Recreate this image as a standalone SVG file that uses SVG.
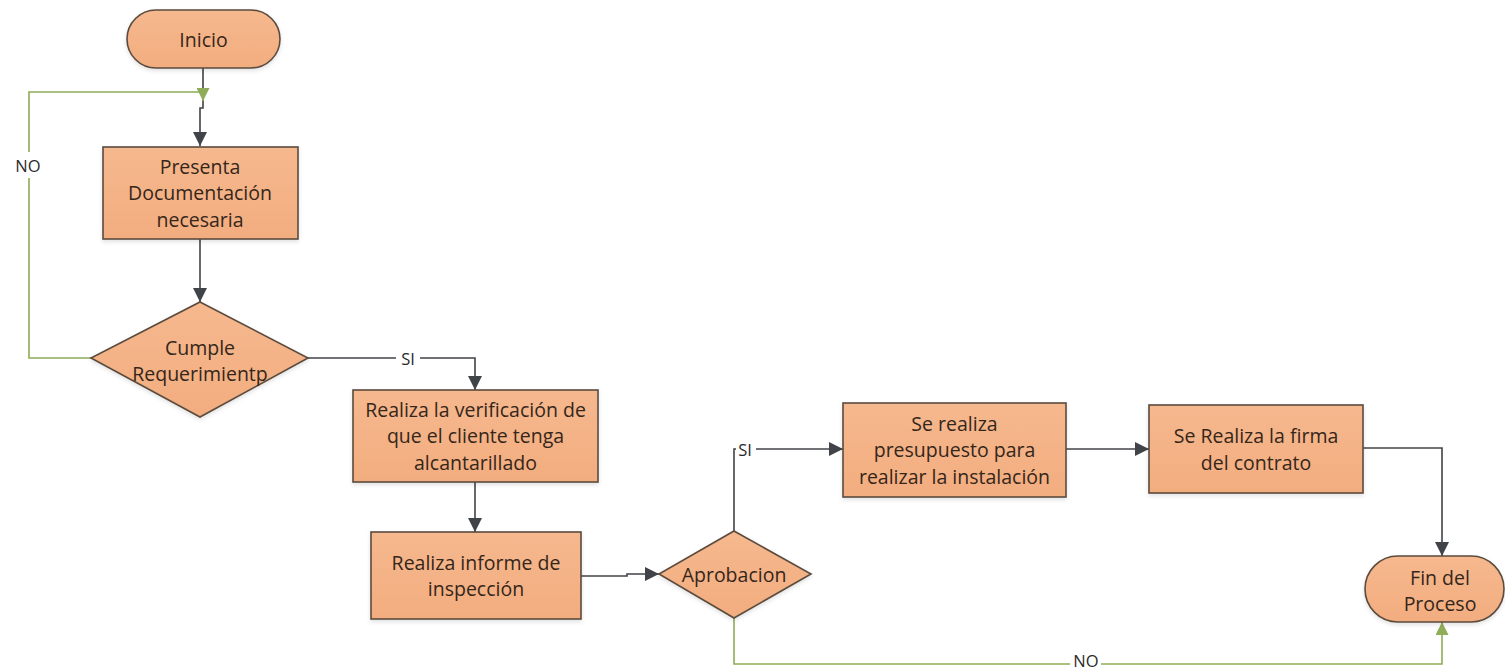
<svg xmlns="http://www.w3.org/2000/svg" width="1505" height="671" viewBox="0 0 1505 671">
  <defs>
    <linearGradient id="fillOrange" x1="0" y1="0" x2="0" y2="1">
      <stop offset="0" stop-color="#f6b88e"/>
      <stop offset="1" stop-color="#f2ad7f"/>
    </linearGradient>
    <filter id="soft" x="-10%" y="-10%" width="120%" height="130%">
      <feDropShadow dx="0" dy="2" stdDeviation="2" flood-color="#000" flood-opacity="0.12"/>
    </filter>
    <marker id="arrowDark" viewBox="0 0 10 10" refX="10" refY="5" markerWidth="14" markerHeight="14" markerUnits="userSpaceOnUse" orient="auto">
      <path d="M0,0 L10,5 L0,10 z" fill="#404348"/>
    </marker>
    <marker id="arrowGreen" viewBox="0 0 10 10" refX="10" refY="5" markerWidth="13" markerHeight="13" markerUnits="userSpaceOnUse" orient="auto">
      <path d="M0,0 L10,5 L0,10 z" fill="#8fac58"/>
    </marker>
  </defs>
  <style>
    .shape { fill: url(#fillOrange); stroke: #5b4b3e; stroke-width: 1.6; filter: url(#soft); }
    .label { font-family: "Open Sans", "Liberation Sans", sans-serif; font-size: 19.5px; fill: #35261a; text-anchor: middle; dominant-baseline: central; }
    .edge { fill: none; stroke: #404348; stroke-width: 1.6; }
    .edge-no { fill: none; stroke: #8fac58; stroke-width: 1.6; }
    .edge-text { font-family: "Open Sans", "Liberation Sans", sans-serif; font-size: 16.5px; fill: #2a2a2a; text-anchor: middle; dominant-baseline: central; }
  </style>
  <rect width="1505" height="671" fill="#ffffff"/>

  <!-- connectors -->
  <g id="connectors">
    <path class="edge" d="M203,68 V108 H200 V146" marker-end="url(#arrowDark)"/>
    <path class="edge" d="M200,238 V302" marker-end="url(#arrowDark)"/>
    <path class="edge-no" d="M91,358 H29 V178"/>
    <path class="edge-no" d="M29,152 V92 H203 V101" marker-end="url(#arrowGreen)"/>
    <text class="edge-text" x="28" y="165">NO</text>
    <path class="edge" d="M308,358 H396"/>
    <path class="edge" d="M420,358 H475 V390" marker-end="url(#arrowDark)"/>
    <text class="edge-text" x="408" y="358">SI</text>
    <path class="edge" d="M475,482 V532" marker-end="url(#arrowDark)"/>
    <path class="edge" d="M581,576 H627 V574 H659" marker-end="url(#arrowDark)"/>
    <path class="edge" d="M734,531 V449 H736"/>
    <path class="edge" d="M756,449 H843" marker-end="url(#arrowDark)"/>
    <text class="edge-text" x="745" y="449">SI</text>
    <path class="edge" d="M1066,449 H1149" marker-end="url(#arrowDark)"/>
    <path class="edge" d="M1363,448 H1442 V556" marker-end="url(#arrowDark)"/>
    <path class="edge-no" d="M734,618 V664 H1070"/>
    <path class="edge-no" d="M1101,664 H1442 V622" marker-end="url(#arrowGreen)"/>
    <text class="edge-text" x="1086" y="660">NO</text>
  </g>

  <g id="inicio">
    <rect class="shape" x="127" y="10" width="153" height="58" rx="29" ry="29"/>
    <text class="label" x="203.5" y="39">Inicio</text>
  </g>

  <g id="presenta">
    <rect class="shape" x="103" y="147" width="195" height="92"/>
    <text class="label" x="200" y="166">Presenta</text>
    <text class="label" x="200" y="192">Documentación</text>
    <text class="label" x="200" y="219">necesaria</text>
  </g>

  <g id="cumple">
    <polygon class="shape" points="200,302 308,358 200,417 91,358"/>
    <text class="label" x="200" y="347">Cumple</text>
    <text class="label" x="200" y="373">Requerimientp</text>
  </g>

  <g id="verificacion">
    <rect class="shape" x="353" y="390" width="245" height="92"/>
    <text class="label" x="475.5" y="409">Realiza la verificación de</text>
    <text class="label" x="475.5" y="435">que el cliente tenga</text>
    <text class="label" x="475.5" y="462">alcantarillado</text>
  </g>

  <g id="informe">
    <rect class="shape" x="371" y="532" width="210" height="87"/>
    <text class="label" x="476" y="562">Realiza informe de</text>
    <text class="label" x="476" y="588">inspección</text>
  </g>

  <g id="aprobacion">
    <polygon class="shape" points="734,531 811,574 734,618 659,574"/>
    <text class="label" x="734" y="574">Aprobacion</text>
  </g>

  <g id="presupuesto">
    <rect class="shape" x="843" y="403" width="223" height="94"/>
    <text class="label" x="954.5" y="423">Se realiza</text>
    <text class="label" x="954.5" y="449">presupuesto para</text>
    <text class="label" x="954.5" y="476">realizar la instalación</text>
  </g>

  <g id="firma">
    <rect class="shape" x="1149" y="405" width="214" height="88"/>
    <text class="label" x="1256" y="435">Se Realiza la firma</text>
    <text class="label" x="1256" y="462">del contrato</text>
  </g>

  <g id="fin">
    <rect class="shape" x="1365" y="556" width="139" height="66" rx="33" ry="33"/>
    <text class="label" x="1440" y="577">Fin del</text>
    <text class="label" x="1440" y="603">Proceso</text>
  </g>
</svg>
